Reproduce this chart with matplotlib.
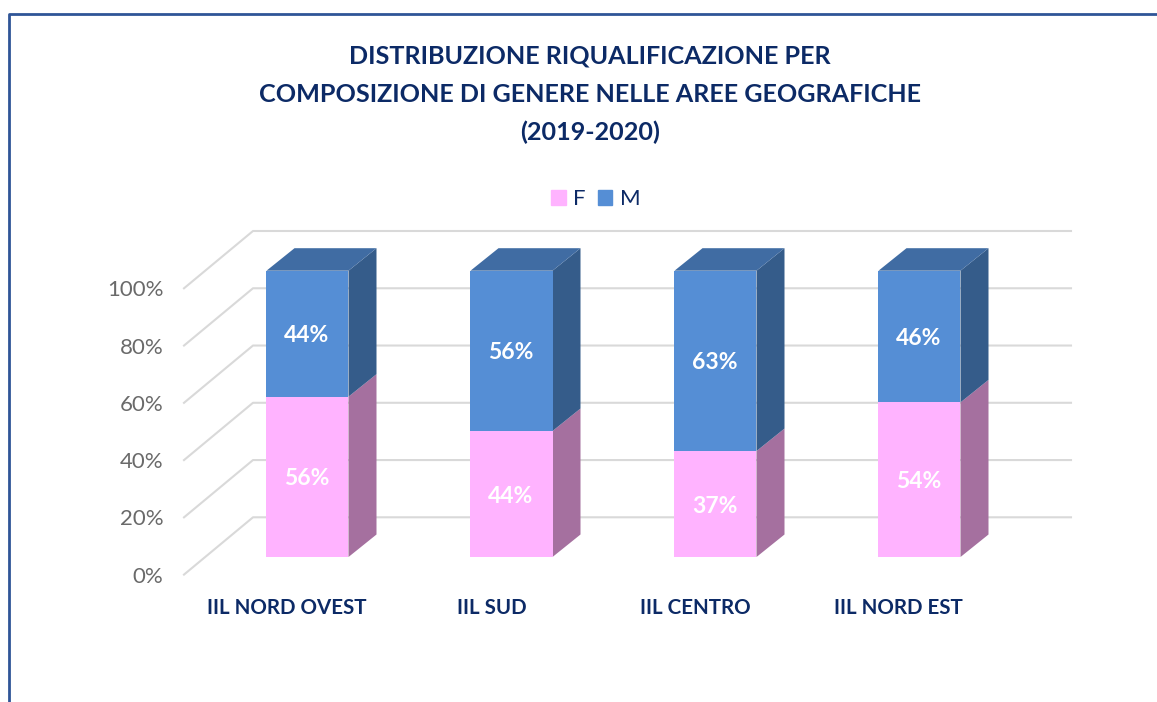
import matplotlib.pyplot as plt
from matplotlib.patches import Patch, Polygon

plt.rcParams['font.family'] = ['Lato', 'DejaVu Sans']

areas = ["IIL NORD OVEST", "IIL SUD", "IIL CENTRO", "IIL NORD EST"]
f_share = [56, 44, 37, 54]
m_share = [44, 56, 63, 46]
y_ticks = [0, 20, 40, 60, 80, 100]
title = "DISTRIBUZIONE RIQUALIFICAZIONE PER\nCOMPOSIZIONE DI GENERE NELLE AREE GEOGRAFICHE\n(2019-2020)"

W, H = 1157, 702
NAVY = "#0C2A66"
GREY = "#6A6A6A"
PINK, PINK_SIDE = "#FFB3FF", "#A5709F"
BLUE, BLUE_SIDE, BLUE_TOP = "#558ED5", "#355C8A", "#406CA3"

# scale of the plot in picture pixels
x0_px, step_px = 307.5, 204.0
y0_px, unit_px = 557.0, 2.863
bar_w = 82 / step_px
depth_x = 28 / step_px
depth_y = 22.5 / unit_px

fig = plt.figure(figsize=(W / 100, H / 100), dpi=100)
ax = fig.add_axes([0, 0, 1, 1])
ax.set_xlim(-x0_px / step_px, (W - x0_px) / step_px)
ax.set_ylim((y0_px - H) / unit_px, y0_px / unit_px)
ax.axis("off")


def px_x(p):
    return (p - x0_px) / step_px


def px_y(p):
    return (y0_px - p) / unit_px


# outer frame, open at the right and the bottom
frame_x, frame_y = px_x(9), px_y(13.5)
ax.plot([frame_x, frame_x, px_x(W + 5)], [px_y(H + 5), frame_y, frame_y], color="#2F5597", lw=2.0, zorder=1)

# floor and back wall gridlines
back_lift = (y0_px - 517.3) / unit_px
front_drop = 57.3 / unit_px
text_drop = 2 / unit_px
for t in y_ticks:
    yb = t + back_lift
    ax.plot([px_x(184), px_x(253), px_x(1071)], [yb - front_drop, yb, yb], color="#D9D9D9", lw=1.5, zorder=1)
    ax.text(px_x(163.5), yb - front_drop - text_drop, f"{t}%", ha="right", va="center", fontsize=16, color=GREY)

positions = list(range(len(areas)))
bars_f = ax.bar(positions, f_share, width=bar_w, color=PINK, zorder=3)
bars_m = ax.bar(positions, m_share, width=bar_w, bottom=f_share, color=BLUE, zorder=3)

for i, (f, m) in enumerate(zip(f_share, m_share)):
    right = i + bar_w / 2
    left = i - bar_w / 2
    total = f + m
    # side faces
    ax.add_patch(Polygon([(right, 0), (right + depth_x, depth_y), (right + depth_x, f + depth_y), (right, f)],
                         color=PINK_SIDE, lw=0, zorder=2))
    ax.add_patch(Polygon([(right, f), (right + depth_x, f + depth_y), (right + depth_x, total + depth_y), (right, total)],
                         color=BLUE_SIDE, lw=0, zorder=2))
    # top face
    ax.add_patch(Polygon([(left, total), (right, total), (right + depth_x, total + depth_y), (left + depth_x, total + depth_y)],
                         color=BLUE_TOP, lw=0, zorder=2))
    ax.text(i - 0.003, f / 2 - text_drop, f"{f}%", ha="center", va="center", fontsize=16.5, fontweight="bold",
            color="white", zorder=4)
    ax.text(i - 0.003, f + m / 2 - text_drop, f"{m}%", ha="center", va="center", fontsize=16.5, fontweight="bold",
            color="white", zorder=4)

# category labels sit left of the bar centres in the original
label_x = [207, 457, 640, 834]
for name, lx in zip(areas, label_x):
    ax.text(px_x(lx), px_y(608), name, ha="left", va="center", fontsize=14.8, fontweight="bold", color=NAVY)

fig.text(590 / W, 1 - 94.5 / H, title, ha="center", va="center", fontsize=18.1, fontweight="bold",
         color=NAVY, linespacing=1.78)

handles = [Patch(color=PINK, label="F"), Patch(color=BLUE, label="M")]
fig.legend(handles=handles, loc="center", bbox_to_anchor=(596 / W, 1 - 199 / H), ncol=2, frameon=False,
           fontsize=16, labelcolor=NAVY, handlelength=0.65, handleheight=0.65, handletextpad=0.35,
           columnspacing=0.55, borderpad=0)

fig.savefig("out.png", dpi=100)
